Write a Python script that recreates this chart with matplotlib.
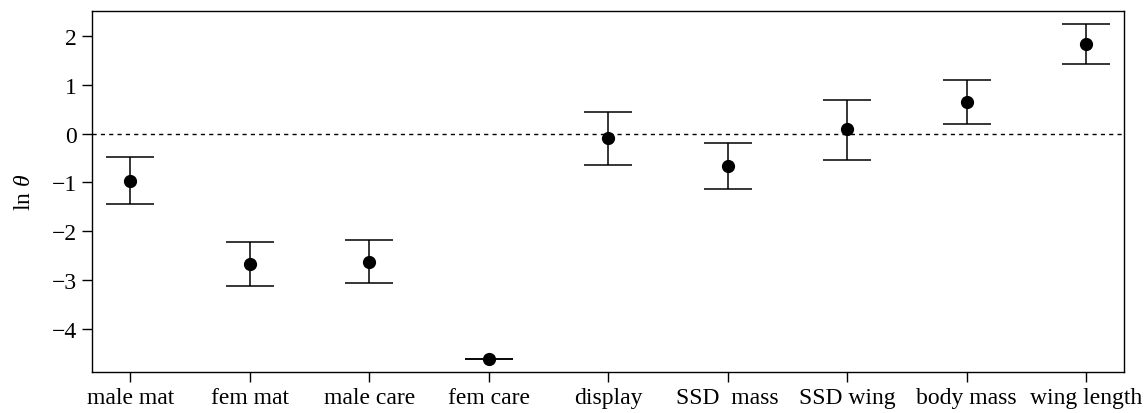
import matplotlib.pyplot as plt

plt.rcParams['font.family'] = 'Liberation Serif'
plt.rcParams['mathtext.fontset'] = 'custom'
plt.rcParams['mathtext.rm'] = 'Liberation Serif'
plt.rcParams['mathtext.it'] = 'Liberation Serif:italic'

# traits and estimates of ln theta with interval limits
traits = ["male mat", "fem mat", "male care", "fem care", "display",
          "SSD  mass", "SSD wing", "body mass", "wing length"]
estimate = [-0.96, -2.67, -2.64, -4.62, -0.09, -0.66, 0.10, 0.65, 1.84]
upper = [-0.47, -2.22, -2.19, -4.62, 0.45, -0.19, 0.69, 1.10, 2.25]
lower = [-1.44, -3.13, -3.07, -4.62, -0.65, -1.14, -0.54, 0.21, 1.43]

x = list(range(1, len(traits) + 1))
err_lo = [e - l for e, l in zip(estimate, lower)]
err_hi = [u - e for e, u in zip(estimate, upper)]

fig = plt.figure(figsize=(11.46, 4.14), dpi=100)
ax = fig.add_axes([0.0803, 0.099, 0.9007, 0.872])

ax.axhline(0, color='black', linestyle=(0, (3, 3)), linewidth=1)
ax.errorbar(x, estimate, yerr=[err_lo, err_hi], fmt='o', color='black',
            ms=8.5, capsize=17.5, elinewidth=1.1, capthick=1.1)

ax.set_xlim(0.68, 9.32)
ax.set_ylim(-4.89, 2.52)
ax.set_xticks(x)
ax.set_xticklabels(traits)
ax.set_yticks([-4, -3, -2, -1, 0, 1, 2])
ax.set_yticklabels(['\u22124', '\u22123', '\u22122', '\u22121', '0', '1', '2'])
ax.tick_params(direction='out', length=7, width=1, labelsize=17, pad=4)
ax.set_ylabel(r'ln $\theta$', fontsize=17, labelpad=12)
for s in ax.spines.values():
    s.set_linewidth(1)

fig.savefig('out.png', dpi=100)
